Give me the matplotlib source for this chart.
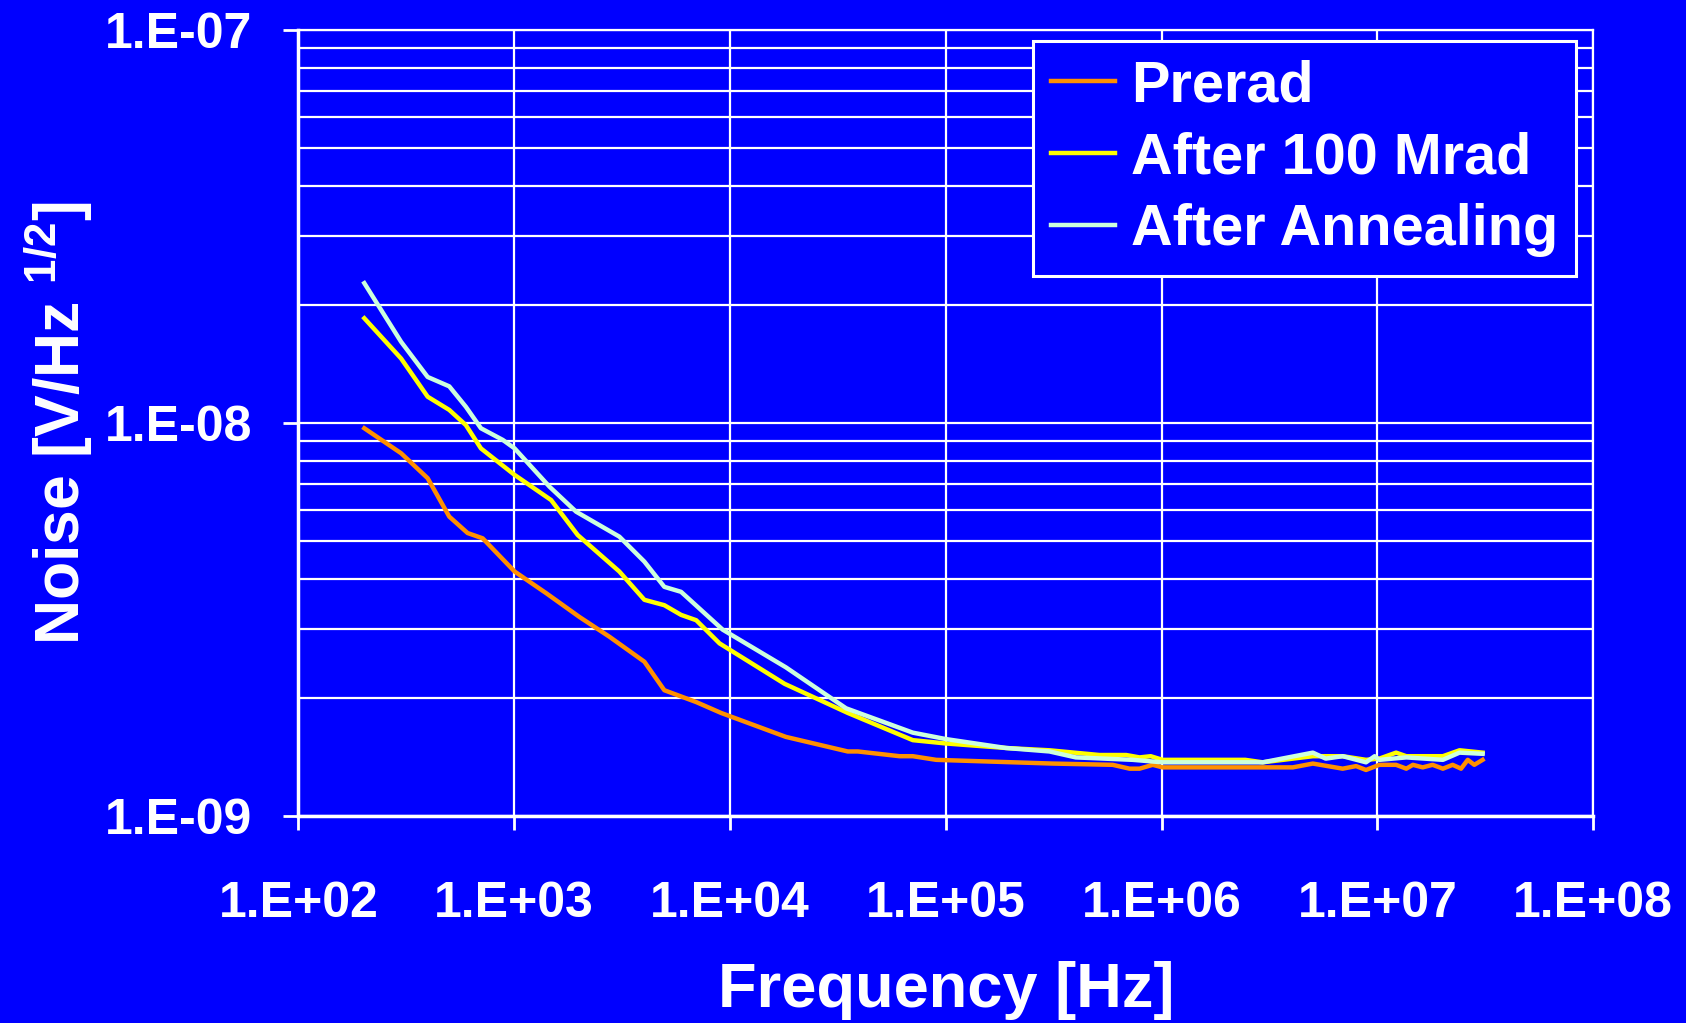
import matplotlib
matplotlib.use("Agg")
import matplotlib.pyplot as plt
from matplotlib.ticker import FixedLocator, FixedFormatter, LogLocator, NullLocator

BLUE = "#0000FF"
WHITE = "#FFFFFF"
ORANGE, YELLOW, MINT = "#FF9000", "#FFFF00", "#CCFFDD"

plt.rcParams["font.family"] = ["Liberation Sans", "DejaVu Sans"]
plt.rcParams["font.weight"] = "bold"
plt.rcParams["mathtext.fontset"] = "custom"
plt.rcParams["mathtext.rm"] = "Liberation Sans:bold"
plt.rcParams["mathtext.bf"] = "Liberation Sans:bold"

# data
prerad_f = [202, 299, 397, 500, 608, 714, 1004, 1407, 2006, 2760, 4010, 4960, 6970,
            9080, 18150, 35100, 39100, 61000, 70300, 90200, 3.13e5, 5.93e5, 7.10e5,
            7.9e5, 9.09e5, 1.01e6, 4.05e6, 5.02e6, 6.9e6, 7.96e6, 8.85e6, 1.02e7,
            1.22e7, 1.36e7, 1.46e7, 1.62e7, 1.80e7, 2.01e7, 2.23e7, 2.44e7, 2.62e7,
            2.81e7, 3.07e7]
prerad_v = [9.70e-9, 8.38e-9, 7.24e-9, 5.78e-9, 5.25e-9, 5.09e-9, 4.19e-9, 3.69e-9,
            3.21e-9, 2.86e-9, 2.47e-9, 2.09e-9, 1.95e-9, 1.83e-9, 1.59e-9, 1.46e-9,
            1.46e-9, 1.42e-9, 1.42e-9, 1.39e-9, 1.36e-9, 1.35e-9, 1.32e-9, 1.32e-9,
            1.35e-9, 1.33e-9, 1.33e-9, 1.36e-9, 1.32e-9, 1.34e-9, 1.31e-9, 1.35e-9,
            1.35e-9, 1.32e-9, 1.35e-9, 1.33e-9, 1.35e-9, 1.32e-9, 1.35e-9, 1.32e-9,
            1.39e-9, 1.35e-9, 1.39e-9]

mrad_f = [202, 299, 397, 500, 597, 701, 1004, 1482, 1968, 3070, 4010, 4960, 5930,
          6970, 8940, 17900, 35100, 70300, 1.0e5, 1.90e5, 3.02e5, 5.15e5, 6.85e5,
          7.9e5, 8.9e5, 1.01e6, 2.44e6, 2.94e6, 5.02e6, 6.9e6, 8.85e6, 1.02e7,
          1.22e7, 1.36e7, 2.01e7, 2.40e7, 3.07e7]
mrad_v = [1.848e-8, 1.46e-8, 1.167e-8, 1.08e-8, 9.88e-9, 8.62e-9, 7.38e-9, 6.37e-9,
          5.19e-9, 4.19e-9, 3.55e-9, 3.44e-9, 3.25e-9, 3.15e-9, 2.75e-9, 2.17e-9,
          1.83e-9, 1.56e-9, 1.53e-9, 1.49e-9, 1.47e-9, 1.43e-9, 1.43e-9, 1.41e-9,
          1.42e-9, 1.39e-9, 1.39e-9, 1.37e-9, 1.42e-9, 1.42e-9, 1.39e-9, 1.40e-9,
          1.45e-9, 1.42e-9, 1.42e-9, 1.47e-9, 1.45e-9]

anneal_f = [202, 299, 397, 500, 597, 701, 885, 1004, 1456, 1935, 3070, 4010, 4960,
            5930, 9250, 18150, 34500, 70300, 1.0e5, 1.90e5, 3.02e5, 4.0e5, 7.35e5,
            1.01e6, 2.94e6, 5.02e6, 5.76e6, 6.9e6, 8.85e6, 9.7e6, 1.02e7, 1.36e7,
            2.01e7, 2.40e7, 3.07e7]
anneal_v = [2.27e-8, 1.61e-8, 1.31e-8, 1.24e-8, 1.10e-8, 9.7e-9, 9.06e-9, 8.62e-9,
            6.89e-9, 5.95e-9, 5.14e-9, 4.44e-9, 3.83e-9, 3.72e-9, 2.98e-9, 2.39e-9,
            1.88e-9, 1.63e-9, 1.57e-9, 1.49e-9, 1.46e-9, 1.41e-9, 1.39e-9, 1.37e-9,
            1.37e-9, 1.45e-9, 1.40e-9, 1.42e-9, 1.37e-9, 1.42e-9, 1.39e-9, 1.41e-9,
            1.39e-9, 1.45e-9, 1.44e-9]

x_ticks = [1e2, 1e3, 1e4, 1e5, 1e6, 1e7, 1e8]
x_labels = ["1.E+02", "1.E+03", "1.E+04", "1.E+05", "1.E+06", "1.E+07", "1.E+08"]
y_ticks = [1e-9, 1e-8, 1e-7]
y_labels = ["1.E-09", "1.E-08", "1.E-07"]

fig = plt.figure(figsize=(16.86, 10.23), dpi=100, facecolor=BLUE)
ax = fig.add_axes([0.177, 0.2023, 0.768, 0.7683], facecolor=BLUE)
ax.set_xscale("log")
ax.set_yscale("log")
ax.set_xlim(1e2, 1e8)
ax.set_ylim(1e-9, 1e-7)

ax.plot(prerad_f, prerad_v, color=ORANGE, linewidth=3.2, label="Prerad", zorder=3)
ax.plot(mrad_f, mrad_v, color=YELLOW, linewidth=3.2, label="After 100 Mrad", zorder=4)
ax.plot(anneal_f, anneal_v, color=MINT, linewidth=3.2, label="After Annealing", zorder=5)

ax.xaxis.set_major_locator(FixedLocator(x_ticks))
ax.xaxis.set_major_formatter(FixedFormatter(x_labels))
ax.xaxis.set_minor_locator(NullLocator())
ax.yaxis.set_major_locator(FixedLocator(y_ticks))
ax.yaxis.set_major_formatter(FixedFormatter(y_labels))
ax.yaxis.set_minor_locator(LogLocator(base=10, subs=range(2, 10)))

ax.grid(which="major", color=WHITE, linewidth=1.6)
ax.grid(which="minor", axis="y", color=WHITE, linewidth=1.6)
ax.set_axisbelow(True)

ax.tick_params(axis="both", which="major", colors=WHITE, labelsize=36, width=2,
               direction="out")
ax.tick_params(axis="x", which="major", length=10, pad=37)
ax.tick_params(axis="y", which="major", length=11, pad=22)
ax.tick_params(axis="y", which="minor", length=0)
for lab in ax.get_xticklabels() + ax.get_yticklabels():
    lab.set_fontweight("bold")

for side in ("left", "bottom"):
    ax.spines[side].set_color(WHITE)
    ax.spines[side].set_linewidth(2.5)
for side in ("top", "right"):
    ax.spines[side].set_color(WHITE)
    ax.spines[side].set_linewidth(1.6)

ax.set_xlabel("Frequency [Hz]", fontsize=45.5, fontweight="bold", color=WHITE,
              labelpad=24)
ax.set_ylabel(r"Noise [V/Hz $^{\mathbf{1/2}}$]", fontsize=45, fontweight="bold",
              color=WHITE, labelpad=7)

leg = ax.legend(loc="upper right", bbox_to_anchor=(0.987, 0.986), fontsize=41.5,
                frameon=True, fancybox=False, facecolor=BLUE, edgecolor=WHITE,
                framealpha=1, handlelength=1.1, handletextpad=0.28, labelspacing=0.31,
                borderpad=0.32, borderaxespad=0)
leg.get_frame().set_linewidth(2.2)
for t in leg.get_texts():
    t.set_color(WHITE)
    t.set_fontweight("bold")

fig.savefig("out.png", dpi=100, facecolor=BLUE)
